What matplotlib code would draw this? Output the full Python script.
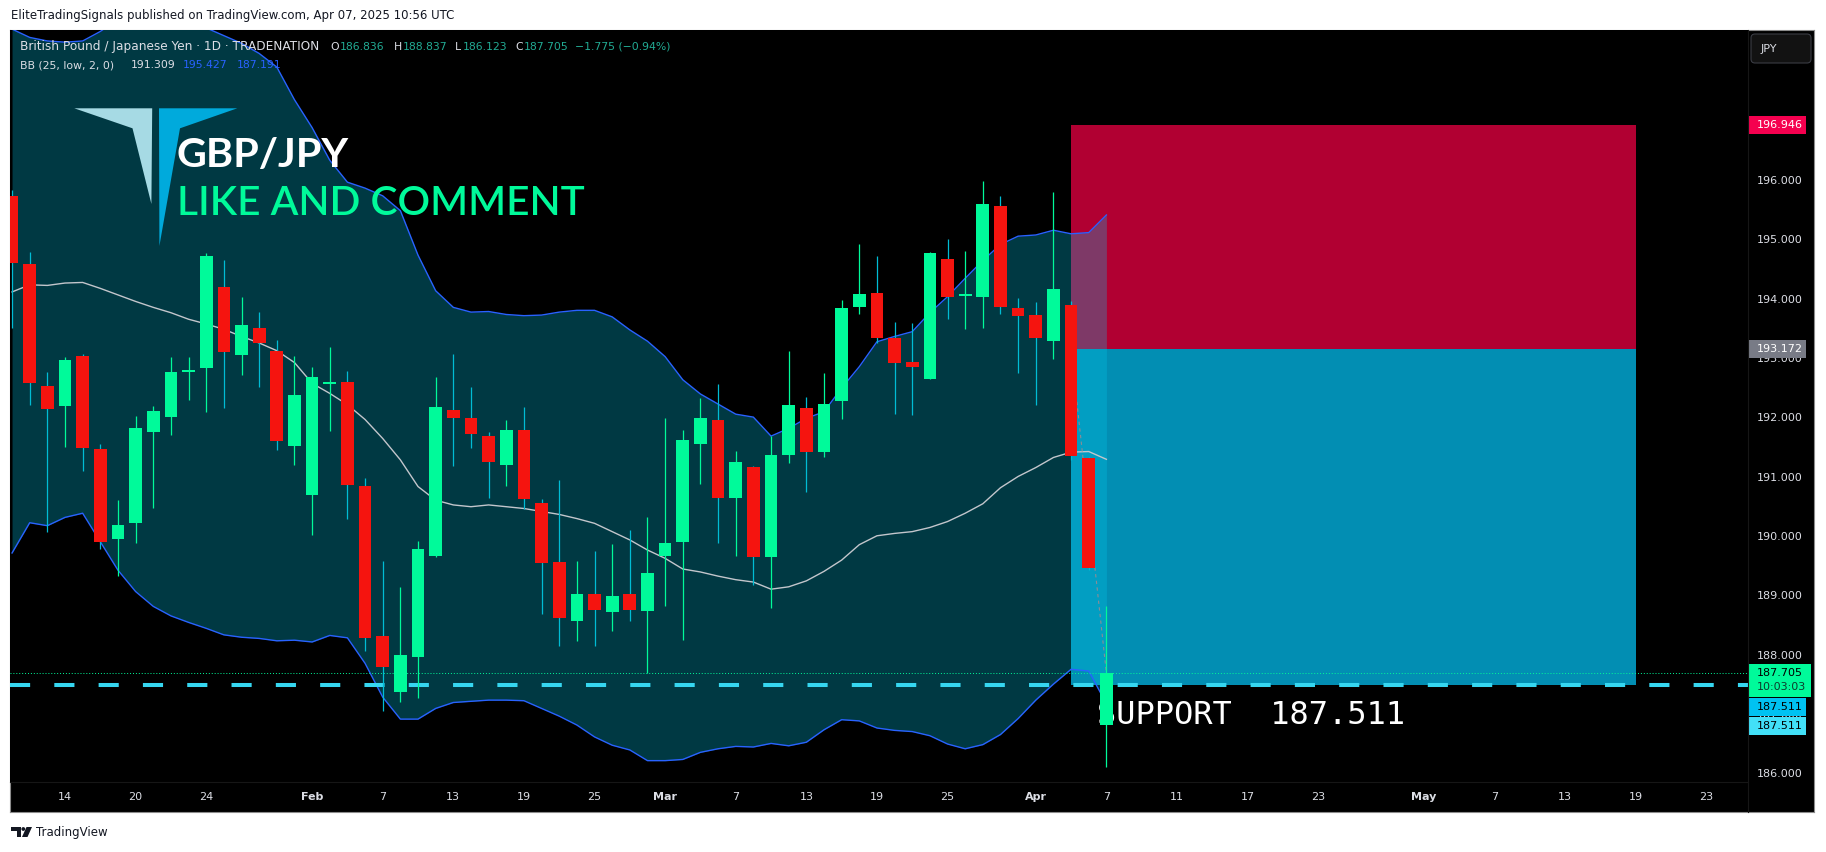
import matplotlib
matplotlib.use('Agg')
import matplotlib.pyplot as plt
from matplotlib.patches import Rectangle, Polygon, FancyBboxPatch, Circle
import numpy as np
import pandas as pd

W, H, DPI = 1826, 852, 100

# daily bars, Jan 9 .. Apr 7 2025 (GBP/JPY, 1D)
dates = pd.bdate_range('2025-01-09', '2025-05-30')

opens = [195.75, 194.60, 192.55, 192.20, 193.05, 191.48, 189.97, 190.24, 191.77, 192.02,
         192.78, 192.84, 194.21, 193.06, 193.52, 193.13, 191.54, 190.70, 192.58, 192.61,
         190.86, 188.33, 187.38, 187.97, 189.68, 192.14, 192.01, 191.70, 191.21, 191.80,
         190.57, 189.58, 188.58, 189.04, 188.74, 189.04, 188.75, 189.68, 189.92, 191.57,
         191.97, 190.66, 191.18, 189.67, 191.38, 192.17, 191.44, 192.30, 193.88, 194.11,
         193.35, 192.95, 192.67, 194.69, 194.06, 194.05, 195.58, 193.86, 193.74, 193.31,
         193.91, 191.33, 186.836]
highs = [195.85, 194.80, 192.78, 193.03, 193.08, 191.56, 190.62, 192.04, 192.21, 193.03,
         193.03, 194.78, 194.67, 194.04, 193.79, 193.32, 193.05, 192.87, 193.21, 192.80,
         190.99, 189.60, 189.16, 189.93, 192.70, 193.09, 192.53, 191.77, 191.97, 192.19,
         190.64, 190.96, 189.60, 189.77, 189.88, 190.12, 190.34, 192.00, 191.80, 192.34,
         192.58, 191.45, 191.20, 191.70, 193.13, 192.36, 192.76, 193.99, 194.94, 194.74,
         193.62, 193.61, 194.81, 195.02, 194.82, 196.00, 195.75, 194.03, 193.96, 195.81,
         193.98, 191.35, 188.837]
lows = [193.52, 192.23, 190.09, 191.52, 191.12, 189.80, 189.35, 189.90, 190.49, 191.72,
        192.31, 192.10, 192.17, 192.73, 192.52, 191.47, 191.21, 190.03, 191.79, 190.30,
        188.08, 187.07, 187.22, 187.28, 189.66, 191.20, 191.50, 190.66, 190.86, 190.47,
        188.71, 188.17, 188.24, 188.17, 188.42, 188.58, 187.70, 188.84, 188.26, 190.90,
        189.90, 189.68, 189.19, 188.81, 191.25, 190.76, 191.34, 191.99, 193.75, 193.27,
        192.07, 192.05, 192.67, 193.67, 193.50, 193.53, 193.76, 192.76, 192.22, 193.00,
        191.30, 189.45, 186.123]
closes = [194.62, 192.59, 192.16, 192.98, 191.50, 189.92, 190.20, 191.83, 192.12, 192.78,
          192.80, 194.74, 193.12, 193.57, 193.27, 191.62, 192.39, 192.70, 192.61, 190.87,
          188.30, 187.81, 188.01, 189.80, 192.19, 192.01, 191.74, 191.27, 191.80, 190.64,
          189.56, 188.64, 189.04, 188.77, 189.01, 188.77, 189.39, 189.90, 191.63, 192.00,
          190.65, 191.26, 189.67, 191.38, 192.22, 191.44, 192.24, 193.86, 194.10, 193.36,
          192.94, 192.87, 194.79, 194.05, 194.08, 195.62, 193.87, 193.73, 193.36, 194.18,
          191.36, 189.48, 187.705]

# Bollinger Bands (25, low, 2)
bb_upper = [198.56, 198.42, 198.36, 198.34, 198.36, 198.52, 198.72, 198.86, 198.90, 198.89,
            198.79, 198.58, 198.45, 198.32, 198.15, 197.92, 197.37, 196.90, 196.35, 195.98,
            195.88, 195.75, 195.50, 194.75, 194.15, 193.87, 193.79, 193.80, 193.75, 193.73,
            193.74, 193.79, 193.82, 193.82, 193.71, 193.49, 193.30, 193.04, 192.65, 192.41,
            192.24, 192.07, 192.02, 191.70, 191.83, 192.00, 192.11, 192.51, 192.87, 193.29,
            193.38, 193.46, 193.78, 194.05, 194.36, 194.66, 194.93, 195.07, 195.09, 195.17,
            195.11, 195.13, 195.427]
bb_mid = [194.13, 194.25, 194.24, 194.28, 194.29, 194.19, 194.08, 193.97, 193.87, 193.78,
          193.67, 193.59, 193.50, 193.38, 193.27, 193.14, 192.94, 192.59, 192.42, 192.23,
          191.98, 191.66, 191.30, 190.85, 190.62, 190.54, 190.51, 190.54, 190.51, 190.48,
          190.43, 190.38, 190.31, 190.23, 190.09, 189.95, 189.78, 189.64, 189.46, 189.41,
          189.34, 189.28, 189.24, 189.12, 189.16, 189.26, 189.42, 189.61, 189.87, 190.02,
          190.06, 190.09, 190.16, 190.26, 190.40, 190.56, 190.83, 191.02, 191.17, 191.34,
          191.43, 191.44, 191.309]
bb_lower = [189.73, 190.24, 190.19, 190.33, 190.40, 189.92, 189.44, 189.08, 188.83, 188.67,
            188.56, 188.46, 188.35, 188.31, 188.29, 188.25, 188.26, 188.23, 188.34, 188.30,
            187.87, 187.30, 186.93, 186.93, 187.11, 187.21, 187.23, 187.25, 187.25, 187.24,
            187.11, 186.98, 186.83, 186.63, 186.49, 186.41, 186.23, 186.23, 186.25, 186.37,
            186.43, 186.47, 186.46, 186.52, 186.48, 186.54, 186.75, 186.92, 186.90, 186.78,
            186.74, 186.72, 186.65, 186.51, 186.43, 186.50, 186.67, 186.94, 187.25, 187.52,
            187.77, 187.74, 187.191]

# short position tool + support
stop_price = 196.946
entry_price = 193.172
support_price = 187.511
pos_start = '2025-04-03'
pos_end = '2025-05-19'
countdown = '10:03:03'

tick_dates = ['2025-01-14', '2025-01-20', '2025-01-24', '2025-02-03', '2025-02-07', '2025-02-13',
              '2025-02-19', '2025-02-25', '2025-03-03', '2025-03-07', '2025-03-13', '2025-03-19',
              '2025-03-25', '2025-04-01', '2025-04-07', '2025-04-11', '2025-04-17', '2025-04-23',
              '2025-05-01', '2025-05-07', '2025-05-13', '2025-05-19', '2025-05-23']
tick_labels = ['14', '20', '24', 'Feb', '7', '13', '19', '25', 'Mar', '7', '13', '19',
               '25', 'Apr', '7', '11', '17', '23', 'May', '7', '13', '19', '23']
price_ticks = [186, 187, 188, 189, 190, 191, 192, 193, 194, 195, 196]

GREEN = '#00fa9a'
RED = '#f5140f'
WICK_DN = '#00bcd4'
BLUE = '#2962ff'
TEAL_TXT = '#22ab94'
AXIS_TXT = '#dcdee5'

fig = plt.figure(figsize=(W / DPI, H / DPI), dpi=DPI, facecolor='white')


def frac(x0, y0, x1, y1):
    # pixel box (top-left origin) -> figure rect
    return [x0 / W, 1 - y1 / H, (x1 - x0) / W, (y1 - y0) / H]


# black chart frame
bg = fig.add_axes(frac(10, 30, 1814, 812))
bg.set_facecolor('black')
bg.set_xticks([])
bg.set_yticks([])
for s in bg.spines.values():
    s.set_color('#8c8c8c')
    s.set_linewidth(0.8)

ax = fig.add_axes(frac(10, 30, 1748, 782))
ax.set_facecolor('black')
for s in ax.spines.values():
    s.set_visible(False)
YMIN, YMAX = 185.870, 198.545
ax.set_xlim(-0.116, 98.35)
ax.set_ylim(YMIN, YMAX)
ppu = 752 / (YMAX - YMIN)  # pixels per yen

o, h, l, c = map(np.array, (opens, highs, lows, closes))
x = np.arange(len(o))
up = c >= o

# position boxes
i0 = dates.get_loc(pd.Timestamp(pos_start))
i1 = dates.get_loc(pd.Timestamp(pos_end))
ax.add_patch(Rectangle((i0, entry_price), i1 - i0, stop_price - entry_price,
                       facecolor='#b10032', lw=0, zorder=1))
ax.add_patch(Rectangle((i0, support_price), i1 - i0, entry_price - support_price,
                       facecolor='#028eb3', lw=0, zorder=1))

# Bollinger bands
ax.fill_between(x, bb_lower, bb_upper, color='#03c8ea', alpha=0.29, lw=0, zorder=2)
ax.plot(x, bb_upper, color=BLUE, lw=1.0, zorder=3)
ax.plot(x, bb_lower, color=BLUE, lw=1.0, zorder=3)
ax.plot(x, bb_mid, color='#c3c6cc', lw=1.0, zorder=3)

# entry -> current price connector
ax.plot([i0, x[-1]], [entry_price, c[-1]], color='#8a8d96', lw=0.8,
        ls=(0, (3, 3)), zorder=3.5)

# support line + label
ax.axhline(support_price, color='#36d6f0', lw=2.9, dashes=(5, 6), zorder=3.6)
ax.axhline(c[-1], color=GREEN, lw=0.7, ls=(0, (1, 2)), zorder=3.6)
ax.text(61.45, 186.85, f'SUPPORT  {support_price:.3f}', color='white',
        family='DejaVu Sans Mono', fontsize=23, va='baseline', ha='left', zorder=3.8)

# candles
ax.vlines(x[up], l[up], h[up], color=GREEN, lw=0.9, zorder=4)
ax.vlines(x[~up], l[~up], h[~up], color=WICK_DN, lw=0.9, zorder=4)
body_h = np.maximum(np.abs(c - o), 0.03)
ax.bar(x, body_h, 0.72, bottom=np.minimum(o, c),
       color=np.where(up, GREEN, RED), lw=0, zorder=5)

# time axis
tick_pos = [dates.get_loc(pd.Timestamp(d)) for d in tick_dates]
ax.set_xticks(tick_pos)
ax.set_xticklabels(tick_labels)
ax.tick_params(axis='x', length=0, pad=7.5, colors=AXIS_TXT, labelsize=8)
for lab in ax.get_xticklabels():
    if lab.get_text() in ('Feb', 'Mar', 'Apr', 'May'):
        lab.set_fontweight('bold')
ax.set_yticks([])

# price axis
pax = fig.add_axes(frac(1748, 30, 1814, 782))
pax.set_xlim(0, 66)
pax.set_ylim(YMIN, YMAX)
pax.axis('off')
for p in price_ticks:
    pax.text(9.3, p, f'{p:.3f}', color=AXIS_TXT, fontsize=8, va='center', ha='left', zorder=1)


def tag(y_top, height, width, color, zorder=5):
    pax.add_patch(Rectangle((0, y_top - height), width, height, facecolor=color,
                            lw=0, zorder=zorder))


px = 1 / ppu
tag(stop_price + 9 * px, 18 * px, 58, '#f5004f')
pax.text(9.3, stop_price, f'{stop_price:.3f}', color='white', fontsize=8, va='center', zorder=6)
tag(entry_price + 9 * px, 18 * px, 58, '#787b86')
pax.text(9.3, entry_price, f'{entry_price:.3f}', color='white', fontsize=8, va='center', zorder=6)
g_top = c[-1] + 9.3 * px
tag(g_top, 33.3 * px, 62.7, GREEN)
pax.text(9.3, c[-1], f'{c[-1]:.3f}', color='black', fontsize=8, va='center', zorder=6)
pax.text(9.3, c[-1] - 14.3 * px, countdown, color='#0c3d2c', fontsize=8, va='center', zorder=6)
t1 = g_top - 34 * px
tag(t1, 18 * px, 58, '#00c2f2')
pax.text(9.3, t1 - 9 * px, f'{support_price:.3f}', color='black', fontsize=8, va='center', zorder=6)
t2 = t1 - 18.7 * px
tag(t2, 18 * px, 58, '#42e0f8')
pax.text(9.3, t2 - 9 * px, f'{support_price:.3f}', color='black', fontsize=8, va='center', zorder=6)

# overlay in pixel coordinates for page texts and logo
ov = fig.add_axes([0, 0, 1, 1])
ov.set_xlim(0, W)
ov.set_ylim(H, 0)
ov.axis('off')
ov.patch.set_alpha(0)

ov.plot([1748, 1748], [30, 812], color='#161616', lw=0.8)
ov.plot([10, 1748], [782, 782], color='#161616', lw=0.8)

ov.text(11, 16, 'EliteTradingSignals published on TradingView.com, Apr 07, 2025 10:56 UTC',
        color='#131722', fontsize=8.5, va='center')

# legend lines
ly1, ly2 = 46.7, 65
ov.text(20, ly1, 'British Pound / Japanese Yen · 1D · TRADENATION', color=AXIS_TXT,
        fontsize=8.7, va='center')
chg = c[-1] - c[-2]
for xp, s, col in [(330, 'O', AXIS_TXT), (340, f'{o[-1]:.3f}', TEAL_TXT),
                   (394, 'H', AXIS_TXT), (403, f'{h[-1]:.3f}', TEAL_TXT),
                   (455, 'L', AXIS_TXT), (463, f'{l[-1]:.3f}', TEAL_TXT),
                   (515, 'C', AXIS_TXT), (524, f'{c[-1]:.3f}', TEAL_TXT),
                   (575, f'{chg:.3f} ({chg / c[-2] * 100:.2f}%)'.replace('-', '−'), TEAL_TXT)]:
    ov.text(xp, ly1, s, color=col, fontsize=7.8, va='center')
for xp, s, col in [(20, 'BB (25, low, 2, 0)', AXIS_TXT), (131, f'{bb_mid[-1]:.3f}', AXIS_TXT),
                   (183, f'{bb_upper[-1]:.3f}', BLUE), (236.5, f'{bb_lower[-1]:.3f}', BLUE)]:
    ov.text(xp, ly2, s, color=col, fontsize=7.8, va='center')

# brand logo and title
ov.add_patch(Polygon([(74.3, 108.3), (152.2, 108.3), (151.4, 204), (132.5, 128.3)],
                     facecolor='#a6dae4', lw=0))
ov.add_patch(Polygon([(159, 108.3), (237.3, 108.3), (180, 128.3), (159.4, 246)],
                     facecolor='#00aadc', lw=0))
ov.text(177, 166.7, 'GBP/JPY', family='Lato', fontweight='bold', fontsize=29.8,
        color='white', va='baseline')
ov.text(177, 215, 'LIKE AND COMMENT', family='Lato', fontweight='semibold', fontsize=29.2,
        color=GREEN, va='baseline')

# JPY button
ov.add_patch(FancyBboxPatch((1751, 34), 60, 29, boxstyle='round,pad=0,rounding_size=4',
                            facecolor='#121212', edgecolor='#3a3c44', lw=0.8))
ov.text(1761, 49.3, 'JPY', color=AXIS_TXT, fontsize=8, va='center')

# footer TradingView mark
ov.add_patch(Polygon([(11, 827), (20.5, 827), (20.5, 837), (16.5, 837), (16.5, 830.5), (11, 830.5)],
                     facecolor='#131722', lw=0))
ov.add_patch(Circle((23.3, 829), 1.9, facecolor='#131722', lw=0))
ov.add_patch(Polygon([(26.5, 827), (32, 827), (27.5, 837), (22, 837)], facecolor='#131722', lw=0))
ov.text(36, 832.5, 'TradingView', color='#131722', fontsize=8.5, va='center')

fig.savefig('out.png', dpi=DPI, facecolor='white')
